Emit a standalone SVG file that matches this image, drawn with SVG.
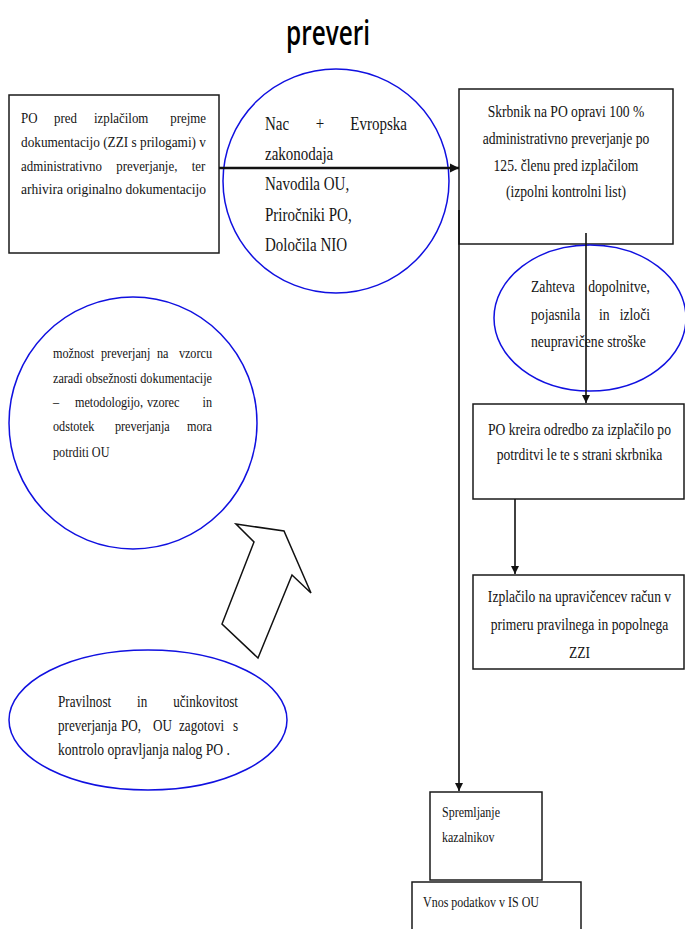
<svg xmlns="http://www.w3.org/2000/svg" width="685" height="929" viewBox="0 0 685 929">
<style>
  .bg{fill:#ffffff}
  .box{fill:#ffffff;stroke:#1a1a1a;stroke-width:1.5}
  .oval{fill:none;stroke:#1010e0;stroke-width:1.5}
  text{font-family:'Liberation Serif','Times New Roman',serif;fill:#141414}
  .f14{font-size:14px}
  .f15{font-size:15px}
  .f16{font-size:16px}
  .f175{font-size:17.5px}
  .f19{font-size:19px}
  .e{text-anchor:end}
  .m{text-anchor:middle}
  .ln{stroke:#111;stroke-width:1.6;fill:none}
  .lnb{stroke:#111;stroke-width:2.6;fill:none}
  text.title{font-family:'Open Sans','Noto Sans',sans-serif;font-size:34px;font-weight:600;fill:#000}
</style>
<defs>
  <marker id="ah" viewBox="0 0 10 10" refX="10" refY="5" markerWidth="8" markerHeight="9" markerUnits="userSpaceOnUse" orient="auto">
    <path d="M0,0 L10,5 L0,10 Z" fill="#111"/>
  </marker>
  <marker id="ahb" viewBox="0 0 10 10" refX="10" refY="5" markerWidth="9" markerHeight="10" markerUnits="userSpaceOnUse" orient="auto">
    <path d="M0,0 L10,5 L0,10 Z" fill="#111"/>
  </marker>
</defs>
<rect class="bg" x="0" y="0" width="685" height="929"/>

<g id="title">
  <text class="title" x="286" y="45" textLength="84" lengthAdjust="spacingAndGlyphs">preveri</text>
</g>

<g id="node-prejem">
  <rect class="box" x="9" y="95" width="210" height="158"/>
  <g class="f15" transform="scale(0.86,1)">
    <text x="24.42" y="123">PO</text>
    <text x="62.79" y="123">pred</text>
    <text x="109.3" y="123">izplačilom</text>
    <text class="e" x="239.53" y="123">prejme</text>
    <text x="24.42" y="147" textLength="215.1" lengthAdjust="spacingAndGlyphs">dokumentacijo (ZZI s prilogami) v</text>
    <text x="24.42" y="171" word-spacing="13">administrativno preverjanje, ter</text>
    <text x="24.42" y="194" textLength="215.1" lengthAdjust="spacingAndGlyphs">arhivira originalno dokumentacijo</text>
  </g>
</g>

<g id="node-zakonodaja">
  <ellipse class="oval" cx="336" cy="181" rx="113" ry="112"/>
  <g class="f19" transform="scale(0.79,1)">
    <text x="335.44" y="130">Nac</text>
    <text class="m" x="405.06" y="130">+</text>
    <text class="e" x="515.19" y="130">Evropska</text>
    <text x="335.44" y="160">zakonodaja</text>
    <text x="335.44" y="190">Navodila OU,</text>
    <text x="335.44" y="221">Priročniki PO,</text>
    <text x="335.44" y="251">Določila NIO</text>
  </g>
</g>

<g id="node-skrbnik">
  <rect class="box" x="459" y="89" width="214" height="155"/>
  <g class="f16" transform="scale(0.85,1)">
    <text class="m" x="665.88" y="117">Skrbnik na PO opravi 100 %</text>
    <text class="m" x="665.88" y="144">administrativno preverjanje po</text>
    <text class="m" x="665.88" y="171">125. členu pred izplačilom</text>
    <text class="m" x="665.88" y="197">(izpolni kontrolni list)</text>
  </g>
</g>

<g id="node-zahteva">
  <ellipse class="oval" cx="590" cy="318" rx="96" ry="73"/>
  <g class="f175" transform="scale(0.78,1)">
    <text x="680.77" y="292">Zahteva</text>
    <text class="e" x="833.33" y="292">dopolnitve,</text>
    <text x="680.77" y="320">pojasnila</text>
    <text x="767.95" y="320">in</text>
    <text class="e" x="833.33" y="320">izloči</text>
    <text x="680.77" y="347">neupravičene stroške</text>
  </g>
</g>

<g id="node-odredba">
  <rect class="box" x="473" y="404" width="211" height="95"/>
  <g class="f16" transform="scale(0.85,1)">
    <text class="m" x="681.76" y="435">PO kreira odredbo za izplačilo po</text>
    <text class="m" x="681.76" y="460">potrditvi le te s strani skrbnika</text>
  </g>
</g>

<g id="node-izplacilo">
  <rect class="box" x="473" y="575" width="211" height="94"/>
  <g class="f16" transform="scale(0.85,1)">
    <text class="m" x="681.76" y="602">Izplačilo na upravičencev račun v</text>
    <text class="m" x="681.76" y="630">primeru pravilnega in popolnega</text>
    <text class="m" x="681.76" y="658">ZZI</text>
  </g>
</g>

<g id="node-vzorec">
  <ellipse class="oval" cx="133" cy="423" rx="124" ry="126"/>
  <g class="f14" transform="scale(0.87,1)">
    <text x="60.92" y="358">možnost</text>
    <text x="116.09" y="358">preverjanj</text>
    <text x="180.46" y="358">na</text>
    <text class="e" x="243.68" y="358">vzorcu</text>
    <text x="60.92" y="383" textLength="182.76" lengthAdjust="spacingAndGlyphs">zaradi obsežnosti dokumentacije</text>
    <text x="60.92" y="407">–</text>
    <text x="86.21" y="407">metodologijo,</text>
    <text x="168.97" y="407">vzorec</text>
    <text class="e" x="243.68" y="407">in</text>
    <text x="60.92" y="431">odstotek</text>
    <text x="132.18" y="431">preverjanja</text>
    <text class="e" x="243.68" y="431">mora</text>
    <text x="60.92" y="457">potrditi OU</text>
  </g>
</g>

<g id="block-arrow">
  <polygon points="236,524 284,531 311,593 292,575 258,658 222,624 254,542" fill="#ffffff" stroke="#111" stroke-width="1.5" stroke-linejoin="miter"/>
</g>

<g id="node-pravilnost">
  <ellipse class="oval" cx="148" cy="720" rx="139" ry="70"/>
  <g class="f175" transform="scale(0.75,1)">
    <text x="77.33" y="707">Pravilnost</text>
    <text x="182.67" y="707">in</text>
    <text class="e" x="317.33" y="707">učinkovitost</text>
    <text x="77.33" y="731">preverjanja</text>
    <text x="161.33" y="731">PO,</text>
    <text x="204" y="731">OU</text>
    <text x="238.67" y="731">zagotovi</text>
    <text class="e" x="317.33" y="731">s</text>
    <text x="77.33" y="755" textLength="229.33" lengthAdjust="spacingAndGlyphs">kontrolo opravljanja nalog PO .</text>
  </g>
</g>

<g id="node-kazalniki">
  <rect class="box" x="430" y="792" width="112" height="88"/>
  <g class="f15" transform="scale(0.8,1)">
    <text x="552.5" y="817">Spremljanje</text>
    <text x="552.5" y="842">kazalnikov</text>
  </g>
</g>

<g id="node-vnos">
  <rect class="box" x="412" y="882" width="169" height="60"/>
  <g class="f15" transform="scale(0.8,1)">
    <text x="528.75" y="907" textLength="145" lengthAdjust="spacingAndGlyphs">Vnos podatkov v IS OU</text>
  </g>
</g>

<g id="connectors">
  <line class="lnb" x1="219" y1="168" x2="459" y2="168" marker-end="url(#ahb)"/>
  <line class="ln" x1="586" y1="233" x2="586" y2="403" marker-end="url(#ah)"/>
  <line class="ln" x1="515" y1="499" x2="515" y2="574" marker-end="url(#ah)"/>
  <line class="ln" x1="459" y1="210" x2="459" y2="791" marker-end="url(#ah)"/>
</g>
</svg>
